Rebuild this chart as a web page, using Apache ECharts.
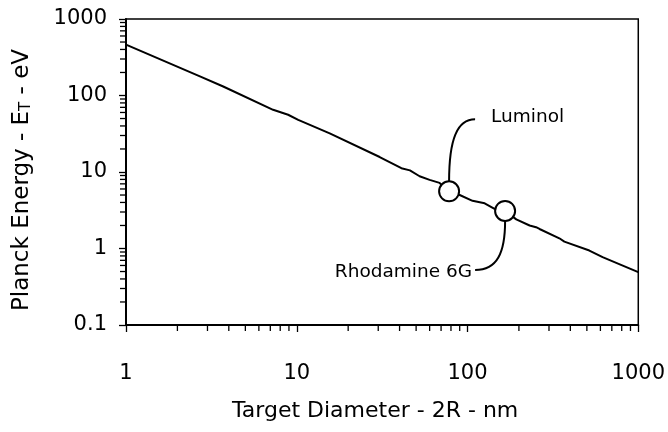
<!DOCTYPE html>
<html lang="en">
<head>
  <meta charset="UTF-8">
  <title>Planck Energy vs Target Diameter</title>
  <script src="https://cdn.jsdelivr.net/npm/echarts@6/dist/echarts.min.js"></script>
</head>
<body style="margin:0">
<div id="main" style="width:668px;height:432px;"></div>
<script type="text/javascript">
  // curve (x = diameter in nm, y = energy in eV)
  var diameter = [1, 2.71, 3.71, 7.27, 8.9, 10.2, 15.6, 30.6, 41, 46, 52.4, 60, 68.6, 78, 90, 107, 126, 144, 166, 193, 231, 252, 264, 345, 369, 517, 618, 792, 1000];
  var energy   = [462, 178, 131, 65, 56, 48, 32, 15.7, 11.2, 10.5, 8.8, 7.9, 7.2, 5.6, 5.0, 4.2, 3.9, 3.3, 3.1, 2.4, 2.0, 1.9, 1.8, 1.36, 1.23, 0.94, 0.77, 0.61, 0.49];

  // the two marked dyes
  var dyeNames = ['Luminol', 'Rhodamine 6G'];
  var dyeX = [78, 166];
  var dyeY = [5.6, 3.1];

  // axis ticks
  var xTicks = [1, 10, 100, 1000];
  var yTicks = [0.1, 1, 10, 100, 1000];
  var minorSteps = [2, 3, 4, 5, 6, 7, 8, 9];

  var font = "'DejaVu Sans', sans-serif";

  var lineData = diameter.map(function (d, i) { return [d, energy[i]]; });
  var dyeData = dyeX.map(function (d, i) { return [d, dyeY[i], dyeNames[i]]; });

  // minor tick positions (2..9 in each decade)
  var xMinor = [], yMinor = [];
  for (var i = 0; i < xTicks.length - 1; i++) {
    minorSteps.forEach(function (m) { xMinor.push([xTicks[i] * m, yTicks[0]]); });
  }
  for (var j = 0; j < yTicks.length - 1; j++) {
    minorSteps.forEach(function (m) { yMinor.push([xTicks[0], yTicks[j] * m]); });
  }

  var myChart = echarts.init(document.getElementById('main'));

  function tickRenderer(horizontal) {
    return function (params, api) {
      var p = api.coord([api.value(0), api.value(1)]);
      var shape = horizontal
        ? { x1: p[0], y1: p[1], x2: p[0], y2: p[1] + 6 }
        : { x1: p[0], y1: p[1], x2: p[0] - 6, y2: p[1] };
      return { type: 'line', shape: shape, style: { stroke: '#000', lineWidth: 1.3 } };
    };
  }

  // callout: curved leader + label for each dye
  function renderCallout(params, api) {
    var p = api.coord([api.value(0), api.value(1)]);
    var x = p[0], y = p[1];
    var up = params.dataIndex === 0;
    var children;
    if (up) {
      children = [
        { type: 'bezierCurve',
          shape: { x1: x, y1: y - 10, cpx1: x, cpy1: y - 52, cpx2: x + 8, cpy2: y - 72, x2: x + 26, y2: y - 72 },
          style: { stroke: '#000', lineWidth: 2, fill: null } },
        { type: 'text',
          style: { text: api.value(2), x: x + 42, y: y - 74, align: 'left', verticalAlign: 'middle',
                   font: '18.5px ' + font, fill: '#000' } }
      ];
    } else {
      children = [
        { type: 'bezierCurve',
          shape: { x1: x, y1: y + 10, cpx1: x, cpy1: y + 42, cpx2: x - 8, cpy2: y + 59, x2: x - 30, y2: y + 59 },
          style: { stroke: '#000', lineWidth: 2, fill: null } },
        { type: 'text',
          style: { text: api.value(2), x: x - 33, y: y + 61, align: 'right', verticalAlign: 'middle',
                   font: '18.5px ' + font, fill: '#000' } }
      ];
    }
    return { type: 'group', children: children };
  }

  function plainNumber(v) { return String(v); }

  var option = {
    animation: false,
    textStyle: { fontFamily: font, color: '#000' },
    grid: { left: 126, right: 29, top: 19, bottom: 107, show: true, borderColor: '#000', borderWidth: 1.5 },
    xAxis: {
      type: 'log', logBase: 10, min: 1, max: 1000,
      name: 'Target Diameter - 2R - nm', nameLocation: 'middle', nameGap: 75,
      nameTextStyle: { fontSize: 22, color: '#000', fontFamily: font, padding: [0, 14, 0, 0] },
      axisLine: { lineStyle: { color: '#000', width: 2 } },
      axisTick: { show: true, length: 7, lineStyle: { color: '#000', width: 1.3 } },
      axisLabel: { fontSize: 21, color: '#000', margin: 38, fontFamily: font, formatter: plainNumber },
      splitLine: { show: false }
    },
    yAxis: {
      type: 'log', logBase: 10, min: 0.1, max: 1000,
      name: 'Planck Energy - E{t|T} - eV', nameLocation: 'middle', nameGap: 92,
      nameTextStyle: { fontSize: 23, color: '#000', fontFamily: font, padding: [0, 16, 0, 0],
        rich: { t: { fontSize: 15, color: '#000', fontFamily: font, verticalAlign: 'bottom' } } },
      axisLine: { lineStyle: { color: '#000', width: 2 } },
      axisTick: { show: true, length: 7, lineStyle: { color: '#000', width: 1.3 } },
      axisLabel: { fontSize: 21, color: '#000', margin: 19, fontFamily: font, formatter: plainNumber },
      splitLine: { show: false }
    },
    series: [
      { type: 'line', data: lineData, showSymbol: false, symbol: 'none',
        lineStyle: { color: '#000', width: 2 }, z: 2 },
      { type: 'custom', data: xMinor, renderItem: tickRenderer(true), silent: true, z: 1 },
      { type: 'custom', data: yMinor, renderItem: tickRenderer(false), silent: true, z: 1 },
      { type: 'custom', data: dyeData, renderItem: renderCallout, silent: true, z: 3,
        encode: { x: 0, y: 1 } },
      { type: 'scatter', data: dyeData, symbol: 'circle', symbolSize: 20, z: 4,
        itemStyle: { color: '#fff', borderColor: '#000', borderWidth: 2, opacity: 1 } }
    ]
  };

  myChart.setOption(option);
</script>
</body>
</html>
